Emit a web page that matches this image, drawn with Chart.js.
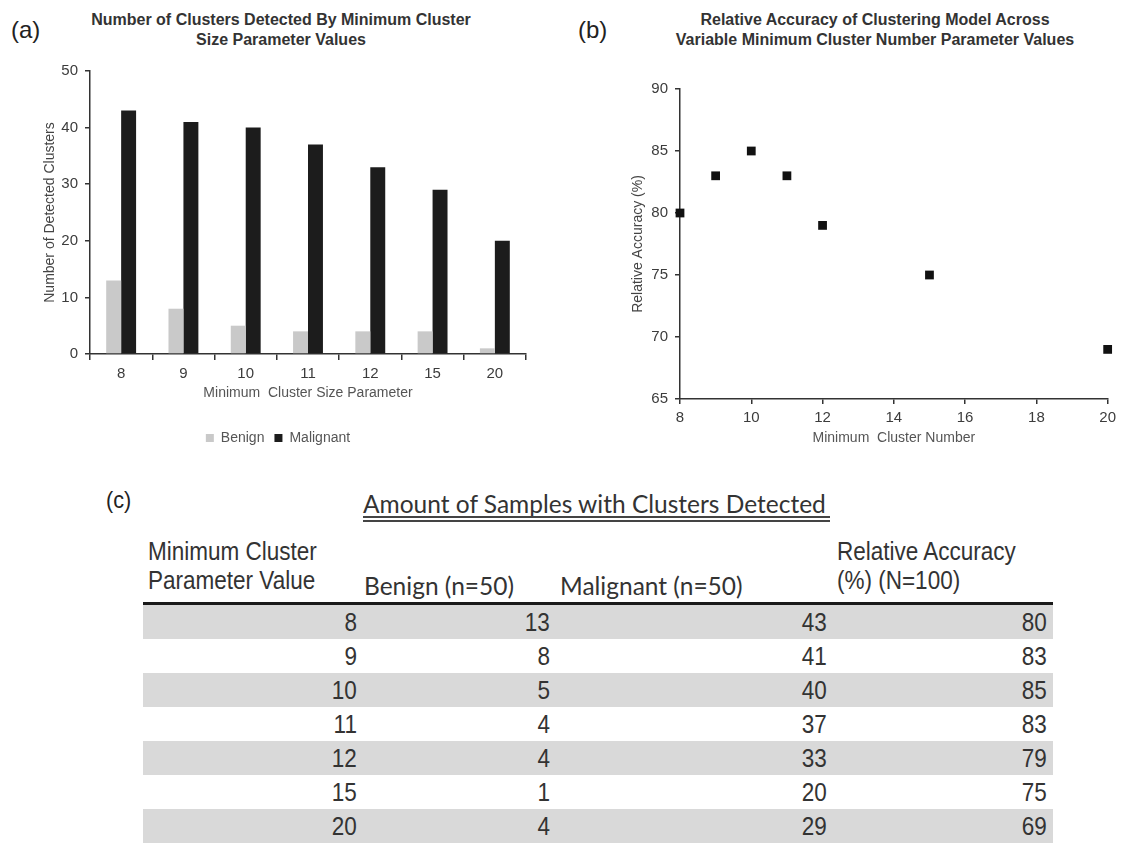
<!DOCTYPE html>
<html>
<head>
<meta charset="utf-8">
<script src="https://cdn.jsdelivr.net/npm/chart.js@4.4.1/dist/chart.umd.min.js"></script>
<style>
  html, body { margin:0; padding:0; background:#ffffff; }
  body { width:1121px; height:847px; position:relative; overflow:hidden; font-family:"Liberation Sans", Arial, sans-serif; }
  .abs { position:absolute; white-space:nowrap; }
  .panel { font-size:24px; color:#222; line-height:24px; }
  .ctitle { font-weight:bold; font-size:16px; line-height:20px; color:#333; text-align:center; width:460px; }
  .ar { font-family:"Liberation Sans", Arial, sans-serif; color:#333; font-size:25px; line-height:25px; }
  .nl { transform:scaleX(0.9); transform-origin:left center; }
  .nr { transform:scaleX(0.9); transform-origin:right center; text-align:right; }
  .lato { font-family:Lato, "Open Sans", sans-serif; color:#333; font-size:24.5px; line-height:24.5px; }
  canvas { position:absolute; }
  .row { position:absolute; left:143px; width:910px; height:34px; }
</style>
</head>
<body>
<div class="abs panel" style="left:11px; top:18px;">(a)</div>
<div class="abs panel" style="left:578px; top:18px;">(b)</div>
<div class="abs ctitle" style="left:51px; top:10px;">Number of Clusters Detected By Minimum Cluster<br>Size Parameter Values</div>
<div class="abs ctitle" style="left:645px; top:10px;">Relative Accuracy of Clustering Model Across<br>Variable Minimum Cluster Number Parameter Values</div>

<canvas id="chartA" width="560" height="460" style="left:0px; top:0px;"></canvas>
<canvas id="chartB" width="561" height="460" style="left:560px; top:0px;"></canvas>

<div id="tableC"></div>

<script>
// ---- data: panel (a) ----
const categories = ['8', '9', '10', '11', '12', '15', '20'];
const benignClusters = [13, 8, 5, 4, 4, 4, 1];
const malignantClusters = [43, 41, 40, 37, 33, 29, 20];

// ---- data: panel (b) ----
const minClusterNumber = [8, 9, 10, 11, 12, 15, 20];
const relativeAccuracy = [80, 83, 85, 83, 79, 75, 69];

// ---- data: panel (c) table (as printed) ----
const tableParam = [8, 9, 10, 11, 12, 15, 20];
const tableBenign = [13, 8, 5, 4, 4, 1, 4];
const tableMalignant = [43, 41, 40, 37, 33, 20, 29];
const tableAccuracy = [80, 83, 85, 83, 79, 75, 69];

Chart.defaults.font.family = '"Liberation Sans", Arial, sans-serif';
Chart.defaults.font.size = 15;
Chart.defaults.color = '#3c3c3c';

const axisCol = '#333333';

new Chart(document.getElementById('chartA'), {
  type: 'bar',
  data: {
    labels: categories,
    datasets: [
      { label: 'Benign', data: benignClusters, backgroundColor: '#c9c9c9', borderWidth: 0 },
      { label: 'Malignant', data: malignantClusters, backgroundColor: '#1c1c1c', borderWidth: 0 }
    ]
  },
  options: {
    responsive: false,
    animation: false,
    devicePixelRatio: 1,
    categoryPercentage: 0.48,
    barPercentage: 1.0,
    layout: { padding: { left: 30, top: 71, right: 34, bottom: 5 } },
    plugins: {
      legend: {
        position: 'bottom',
        labels: { boxWidth: 8, boxHeight: 8, padding: 10, font: { size: 14 }, color: '#555' }
      },
      tooltip: { enabled: false },
      title: { display: false }
    },
    scales: {
      x: {
        grid: { display: true, drawOnChartArea: false, drawTicks: true, tickLength: 6, color: axisCol, lineWidth: 1.5, offset: true },
        border: { display: true, color: axisCol, width: 1.5 },
        ticks: { padding: 5, font: { size: 15 }, color: '#3c3c3c' },
        title: { display: true, text: 'Minimum  Cluster Size Parameter', font: { size: 14 }, color: '#555', padding: { top: 0, bottom: 19 } },
        afterFit: (s) => { s.height = 67; }
      },
      y: {
        min: 0, max: 50,
        ticks: { stepSize: 10, padding: 7, font: { size: 15 }, color: '#3c3c3c' },
        grid: { display: true, drawOnChartArea: false, drawTicks: true, tickLength: 5, color: axisCol, lineWidth: 1.5 },
        border: { display: true, color: axisCol, width: 1.5 },
        title: { display: true, text: 'Number of Detected Clusters', font: { size: 14 }, color: '#444', padding: { top: 12, bottom: 0 } },
        afterFit: (s) => { s.width = 60; }
      }
    }
  }
});

new Chart(document.getElementById('chartB'), {
  type: 'scatter',
  data: {
    datasets: [{
      label: 'Relative Accuracy',
      data: minClusterNumber.map((x, i) => ({ x: x, y: relativeAccuracy[i] })),
      pointStyle: 'rect',
      pointRadius: 6.2,
      backgroundColor: '#111',
      borderColor: '#111',
      borderWidth: 0,
      clip: false
    }]
  },
  options: {
    responsive: false,
    animation: false,
    devicePixelRatio: 1,
    layout: { padding: { left: 60, top: 89, right: 12, bottom: 6 } },
    plugins: { legend: { display: false }, tooltip: { enabled: false } },
    scales: {
      x: {
        type: 'linear', min: 8, max: 20,
        ticks: { stepSize: 2, padding: 5, font: { size: 15 }, color: '#3c3c3c' },
        grid: { display: true, drawOnChartArea: false, drawTicks: true, tickLength: 5, color: axisCol, lineWidth: 1.5 },
        border: { display: true, color: axisCol, width: 1.5 },
        title: { display: true, text: 'Minimum  Cluster Number', font: { size: 14 }, color: '#555', padding: { top: 0, bottom: 7 } },
        afterFit: (s) => { s.height = 55; }
      },
      y: {
        min: 65, max: 90,
        ticks: { stepSize: 5, padding: 7, font: { size: 15 }, color: '#3c3c3c' },
        grid: { display: true, drawOnChartArea: false, drawTicks: true, tickLength: 5, color: axisCol, lineWidth: 1.5 },
        border: { display: true, color: axisCol, width: 1.5 },
        title: { display: true, text: 'Relative Accuracy (%)', font: { size: 14 }, color: '#444', padding: { top: 10, bottom: 0 } },
        afterFit: (s) => { s.width = 60; }
      }
    }
  }
});

// ---- panel (c): table built from arrays ----
(function buildTable() {
  const host = document.getElementById('tableC');
  const add = (html) => { host.insertAdjacentHTML('beforeend', html); };
  add('<div class="abs ar nl" style="left:106px; top:488px; font-size:24px; line-height:24px; color:#222;">(c)</div>');
  add('<div class="abs lato" style="left:363px; top:492px;">Amount of Samples with Clusters Detected</div>');
  add('<div class="abs" style="left:363px; top:516px; width:467px; height:1.5px; background:#444;"></div>');
  add('<div class="abs" style="left:363px; top:520px; width:467px; height:1.5px; background:#444;"></div>');
  add('<div class="abs ar nl" style="left:148px; top:539px;">Minimum Cluster</div>');
  add('<div class="abs ar nl" style="left:148px; top:568px;">Parameter Value</div>');
  add('<div class="abs lato" style="left:364px; top:574px;">Benign (n=50)</div>');
  add('<div class="abs lato" style="left:560px; top:574px;">Malignant (n=50)</div>');
  add('<div class="abs ar nl" style="left:837px; top:539px;">Relative Accuracy</div>');
  add('<div class="abs ar nl" style="left:837px; top:568px;">(%) (N=100)</div>');
  add('<div class="abs" style="left:143px; top:602px; width:910px; height:3px; background:#1a1a1a;"></div>');
  const rights = [357, 550, 827, 1047];
  const cols = [tableParam, tableBenign, tableMalignant, tableAccuracy];
  for (let i = 0; i < tableParam.length; i++) {
    const top = 605 + i * 34;
    if (i % 2 === 0) add('<div class="row" style="top:' + top + 'px; background:#d9d9d9;"></div>');
    for (let c = 0; c < 4; c++) {
      add('<div class="abs ar nr" style="right:' + (1121 - rights[c]) + 'px; top:' + (top + 5) + 'px;">' + cols[c][i] + '</div>');
    }
  }
})();
</script>
</body>
</html>
